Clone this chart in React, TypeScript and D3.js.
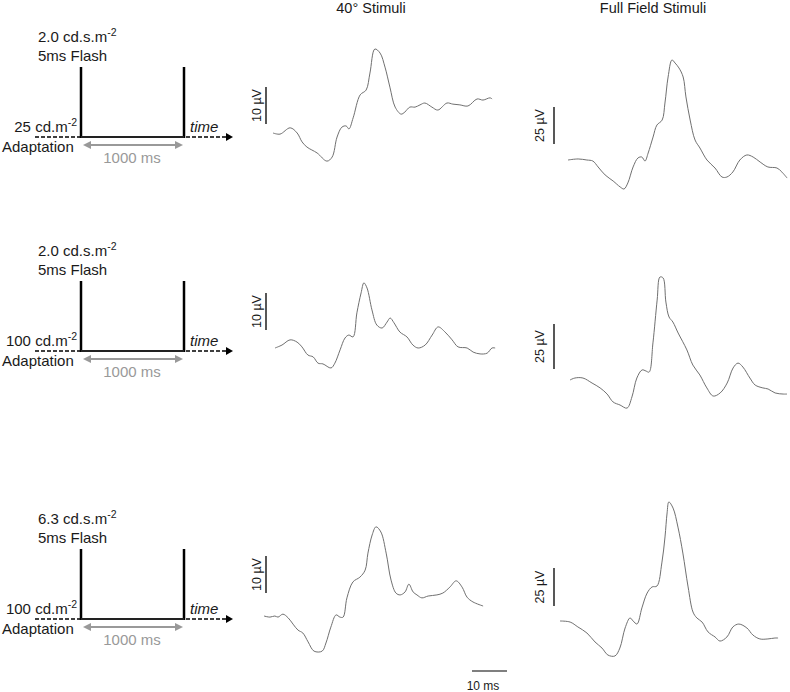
import React from "react";
import * as d3 from "d3";

// ---------- data ----------
const columnTitles = ["40° Stimuli", "Full Field Stimuli"];
const flashIntensity = ["2.0", "2.0", "6.3"];
const adaptationLuminance = ["25", "100", "100"];
const flashLabel = "5ms Flash";
const intervalLabel = "1000 ms";
const scaleBarUV = [10, 25]; // per column
const timeBarMs = 10;

// traces: [time (ms), amplitude (µV)]
const trace40Row1: [number, number][] = [
  [0, 0], [2.0, -0.3], [4.9, 1.4], [6.9, 0], [8.3, -2.4], [9.7, -3.8], [12.6, -5.4], [15.4, -7.6],
  [16.9, -6.5], [18.3, -1.1], [19.7, 1.6], [20.9, 1.9], [21.7, 1.1], [22.9, 4.1], [24.9, 10.3],
  [26.6, 11.6], [27.7, 16.2], [29.1, 22.7], [30.6, 21.6], [32.0, 17.8], [33.4, 12.4], [34.9, 7.0],
  [36.6, 5.1], [37.7, 5.7], [39.1, 7.0], [40.6, 7.0], [42.0, 7.6], [43.4, 8.1], [45.4, 7.0],
  [47.1, 6.2], [49.7, 8.1], [51.4, 7.8], [53.4, 7.6], [55.7, 7.3], [58.3, 9.2], [60.0, 8.9],
  [62.0, 9.5], [62.6, 9.2],
];
const traceFFRow1: [number, number][] = [
  [0, 0], [2.9, 0.7], [5.4, 0], [7.1, -0.7], [8.6, -4.7], [10.6, -10.1], [12.9, -14.2], [14.9, -18.2],
  [16.0, -19.6], [17.1, -15.5], [18.6, -4.7], [20.0, 1.4], [21.1, 2.0], [22.0, -0.7], [22.9, 4.7],
  [24.3, 15.5], [25.4, 23.6], [26.9, 27.0], [27.7, 38.5], [28.6, 56.1], [29.7, 67.6], [30.6, 65.5],
  [31.7, 62.2], [32.9, 56.1], [33.7, 42.6], [34.9, 27.0], [36.3, 13.5], [37.7, 8.1], [39.7, 0],
  [42.0, -5.4], [44.0, -11.5], [45.4, -11.5], [47.1, -8.1], [49.1, 0], [51.1, 3.4], [52.9, 2.0],
  [54.9, -1.4], [57.1, -4.7], [59.7, -5.4], [61.1, -8.1], [62.6, -12.2],
];
const trace40Row2: [number, number][] = [
  [0, 0], [2.0, 0.8], [4.3, 2.2], [6.3, 1.6], [7.7, 0.3], [9.4, -1.9], [10.9, -2.4], [12.3, -4.1],
  [13.7, -4.3], [16.0, -5.4], [17.1, -4.1], [18.6, -0.5], [20.0, 2.7], [21.1, 3.5], [22.3, 3.0],
  [23.4, 9.5], [24.6, 14.9], [25.4, 17.6], [26.3, 16.2], [27.7, 10.3], [29.1, 6.2], [30.6, 5.4],
  [32.0, 7.0], [32.9, 8.1], [34.0, 6.8], [35.7, 4.3], [37.7, 3.0], [39.4, 0.8], [40.9, 0],
  [42.9, 0.8], [44.9, 3.5], [46.6, 5.7], [48.6, 4.3], [50.6, 2.2], [52.3, 0.3], [54.9, 0],
  [56.6, -1.1], [58.6, -1.6], [60.6, -1.4], [62.0, 0], [62.9, 0],
];
const traceFFRow2: [number, number][] = [
  [0, 0], [1.4, 1.1], [3.7, 1.1], [6.3, -1.7], [8.6, -4.4], [10.6, -7.8], [12.3, -12.2], [14.3, -13.9],
  [16.3, -15.6], [17.7, -9.4], [19.1, 1.1], [20.6, 5.6], [21.7, 5.0], [22.6, 4.4], [23.7, 20.6],
  [24.9, 44.4], [25.7, 57.2], [26.6, 56.7], [27.4, 43.3], [28.3, 35.0], [29.4, 32.2], [30.9, 26.1],
  [33.4, 16.7], [35.1, 8.3], [37.1, 2.8], [39.1, -4.4], [40.9, -8.9], [42.9, -7.2], [44.9, -1.7],
  [46.6, 6.7], [48.0, 9.4], [49.4, 7.2], [51.4, 1.1], [52.9, -2.8], [55.1, -4.4], [56.6, -5.0],
  [58.6, -7.2], [60.9, -7.8], [62.0, -7.8],
];
const trace40Row3: [number, number][] = [
  [0, 0], [1.7, -0.3], [3.1, 0], [4.0, -0.3], [5.4, 0.5], [6.9, -0.5], [8.3, -2.2], [9.7, -3.8],
  [11.1, -4.6], [12.6, -7.0], [14.3, -9.5], [16.6, -9.5], [17.7, -7.3], [19.1, -3.0], [20.6, 0.3],
  [21.7, -0.3], [22.6, -0.3], [23.7, 4.9], [25.4, 9.2], [27.4, 10.5], [28.9, 12.4], [29.7, 17.0],
  [30.9, 21.9], [32.0, 24.1], [33.4, 22.7], [34.9, 17.0], [36.3, 9.7], [37.7, 6.2], [38.9, 5.7],
  [40.3, 6.5], [41.4, 8.6], [42.6, 6.5], [43.7, 5.7], [45.1, 4.9], [46.9, 5.4], [49.4, 5.7],
  [51.1, 6.2], [53.1, 7.8], [54.9, 9.5], [56.6, 7.8], [58.0, 5.1], [59.7, 3.8], [62.6, 2.7],
];
const traceFFRow3: [number, number][] = [
  [0, 0], [2.9, -0.7], [5.1, -3.9], [7.7, -7.9], [10.0, -13.8], [12.0, -17.8], [13.7, -22.4],
  [15.7, -23.0], [17.1, -17.8], [18.6, -4.6], [20.0, 2.0], [20.9, 0], [22.0, -2.0], [23.4, 8.6],
  [24.9, 18.4], [26.3, 22.4], [27.7, 23.0], [29.1, 38.2], [30.0, 55.3], [30.6, 71.1], [31.1, 78.3],
  [32.3, 74.3], [33.7, 61.8], [35.1, 44.7], [36.6, 22.4], [38.0, 5.9], [39.1, 2.0], [40.6, -0.7],
  [42.3, -7.2], [44.3, -10.5], [45.7, -13.2], [47.7, -10.5], [49.4, -3.9], [51.1, -2.0],
  [53.4, -4.6], [55.1, -9.2], [57.1, -11.8], [59.4, -11.8], [61.4, -11.2], [62.3, -11.2],
];
const traces = [
  [trace40Row1, traceFFRow1],
  [trace40Row2, traceFFRow2],
  [trace40Row3, traceFFRow3],
];

// ---------- layout ----------
const W = 790;
const H = 692;
const PX_PER_MS = 3.5;
const FONT = "'Liberation Sans', Arial, Helvetica, sans-serif";
const TEXT = "#1a1a1a";
const panels = [
  [
    { x0: 273, y0: 133, k: 3.7, barX: 266, barTop: 87, labelDx: -9.5 },
    { x0: 568, y0: 160, k: 1.48, barX: 554, barTop: 107, labelDx: -14.5 },
  ],
  [
    { x0: 275, y0: 348, k: 3.7, barX: 266, barTop: 293, labelDx: -9.5 },
    { x0: 570, y0: 380, k: 1.8, barX: 554, barTop: 324, labelDx: -14.5 },
  ],
  [
    { x0: 264, y0: 616, k: 3.7, barX: 266, barTop: 556, labelDx: -9.5 },
    { x0: 560, y0: 621, k: 1.52, barX: 554, barTop: 568, labelDx: -14.5 },
  ],
];
const titleX = [371, 653];
const diagramBase = [137, 351, 619];
const timeBar = { x: 472, y: 671 };

function Trace({ data, p }: { data: [number, number][]; p: any }) {
  const x = d3.scaleLinear().domain([0, 1]).range([p.x0, p.x0 + PX_PER_MS]);
  const y = d3.scaleLinear().domain([0, 1]).range([p.y0, p.y0 - p.k]);
  const line = d3
    .line<[number, number]>()
    .x((d) => x(d[0]))
    .y((d) => y(d[1]))
    .curve(d3.curveCatmullRom.alpha(0.5));
  return <path d={line(data) || ""} fill="none" stroke="#707070" strokeWidth={1} />;
}

function ScaleBar({ p, uv }: { p: any; uv: number }) {
  const y = d3.scaleLinear().domain([0, 1]).range([0, p.k]);
  const len = y(uv);
  const cy = p.barTop + len / 2;
  const lx = p.barX + p.labelDx;
  return (
    <g>
      <line x1={p.barX} x2={p.barX} y1={p.barTop} y2={p.barTop + len} stroke="#111" strokeWidth={1.4} />
      <text
        x={lx}
        y={cy}
        transform={`rotate(-90 ${lx} ${cy})`}
        textAnchor="middle"
        dominantBaseline="central"
        fontSize={12.5}
        fontFamily={FONT}
        fill={TEXT}
      >
        {uv} µV
      </text>
    </g>
  );
}

function Diagram({ B, intensity, adapt }: { B: number; intensity: string; adapt: string }) {
  const xL = 81;
  const xR = 184;
  return (
    <g fontFamily={FONT} fill={TEXT}>
      <text x={38} y={B - 95} fontSize={15}>
        {intensity} cd.s.m
        <tspan dy={-6} fontSize={10.5}>-2</tspan>
      </text>
      <text x={38} y={B - 76} fontSize={15}>
        {flashLabel}
      </text>
      <line x1={xL} x2={xL} y1={B - 70} y2={B + 1} stroke="#000" strokeWidth={2.5} />
      <line x1={xR} x2={xR} y1={B - 70} y2={B + 1} stroke="#000" strokeWidth={2.5} />
      <line x1={xL} x2={xR} y1={B} y2={B} stroke="#222" strokeWidth={2} />
      <line x1={35} x2={80} y1={B} y2={B} stroke="#000" strokeWidth={1.5} strokeDasharray="4,2" />
      <line x1={186} x2={226} y1={B} y2={B} stroke="#000" strokeWidth={1.5} strokeDasharray="4,2" />
      <path d={`M226,${B - 4}L233,${B}L226,${B + 4}Z`} fill="#000" />
      <text x={77} y={B - 5} fontSize={15} textAnchor="end">
        {adapt} cd.m
        <tspan dy={-6} fontSize={10.5}>-2</tspan>
      </text>
      <text x={190} y={B - 5} fontSize={15} fontStyle="italic">
        time
      </text>
      <text x={2} y={B + 15} fontSize={15}>
        Adaptation
      </text>
      <line x1={89} x2={177} y1={B + 8} y2={B + 8} stroke="#999" strokeWidth={2} />
      <path d={`M83,${B + 8}L91,${B + 4}L91,${B + 12}Z`} fill="#999" />
      <path d={`M183,${B + 8}L175,${B + 4}L175,${B + 12}Z`} fill="#999" />
      <text x={132} y={B + 26} fontSize={15} textAnchor="middle" fill="#999">
        {intervalLabel}
      </text>
    </g>
  );
}

export default function App() {
  const tx = d3.scaleLinear().domain([0, 1]).range([timeBar.x, timeBar.x + PX_PER_MS]);
  return (
    <svg
      width={W}
      height={H}
      viewBox={`0 0 ${W} ${H}`}
      style={{ position: "absolute", left: 0, top: 0, background: "#fff" }}
    >
      <rect width={W} height={H} fill="#fff" />
      {columnTitles.map((t, i) => (
        <text key={t} x={titleX[i]} y={12.5} textAnchor="middle" fontSize={14.5} fontFamily={FONT} fill={TEXT}>
          {t}
        </text>
      ))}
      {diagramBase.map((B, r) => (
        <Diagram key={r} B={B} intensity={flashIntensity[r]} adapt={adaptationLuminance[r]} />
      ))}
      {panels.map((row, r) =>
        row.map((p, c) => (
          <g key={`${r}-${c}`}>
            <ScaleBar p={p} uv={scaleBarUV[c]} />
            <Trace data={traces[r][c]} p={p} />
          </g>
        ))
      )}
      <line x1={tx(0)} x2={tx(timeBarMs)} y1={timeBar.y} y2={timeBar.y} stroke="#555" strokeWidth={1.5} />
      <text x={483} y={689.5} textAnchor="middle" fontSize={12} fontFamily={FONT} fill={TEXT}>
        {timeBarMs} ms
      </text>
    </svg>
  );
}
